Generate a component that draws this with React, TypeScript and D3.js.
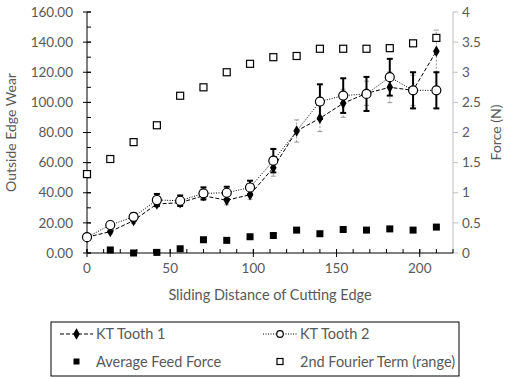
import React from "react";
import * as d3 from "d3";

// sliding distance (x) shared by every series
const distance = [0, 14, 28, 42, 56, 70, 84, 98, 112, 126, 140, 154, 168, 182, 196, 210];
// KT wear, left axis
const tooth1 = [10.5, 14.2, 21.5, 32.5, 33.4, 38, 35, 38.7, 56.6, 81, 89.4, 99.4, 106, 110, 108, 134];
const tooth1Err = [1, 1.5, 2, 2, 2.5, 3, 3, 3, 5.6, 7.4, 8.8, 9.3, 8, 10.2, 10, 14];
const tooth2 = [10.5, 18.6, 24, 35.2, 34.7, 39.6, 40, 43.5, 61.3, null, 100.5, 104.5, 105.6, 116.7, 108, 108];
const tooth2Err = [1, 2, 2.5, 4, 3.5, 4, 4, 4.5, 7.8, null, 11.5, 11.5, 11.3, 12.2, 12, 12];
// forces, right axis
const feedForce = [null, 0.05, 0, 0.01, 0.07, 0.22, 0.21, 0.27, 0.29, 0.38, 0.32, 0.39, 0.38, 0.4, 0.38, 0.43];
const fourier = [1.31, 1.56, 1.84, 2.12, 2.61, 2.75, 3.0, 3.14, 3.25, 3.27, 3.39, 3.39, 3.39, 3.4, 3.48, 3.57];

const xTicks = [0, 50, 100, 150, 200];
const leftTicks = [0, 20, 40, 60, 80, 100, 120, 140, 160];
const rightTicks = [0, 0.5, 1, 1.5, 2, 2.5, 3, 3.5, 4];

const font = "Lato, 'Open Sans', sans-serif";
const grey = "#595959";

function App() {
  const left = 87, right = 453, top = 12, bottom = 253;
  const x = d3.scaleLinear().domain([0, 220]).range([left, right]);
  const y = d3.scaleLinear().domain([0, 160]).range([bottom, top]);
  const y2 = d3.scaleLinear().domain([0, 4]).range([bottom, top]);

  const pts = (vals: (number | null)[]) =>
    distance.map((d, i) => [d, vals[i]] as [number, number | null]).filter((p) => p[1] != null) as [number, number][];

  const line = d3
    .line<[number, number]>()
    .x((d) => x(d[0]))
    .y((d) => y(d[1]));

  const diamond = d3.symbol().type(d3.symbolDiamond).size(38)();

  const errBars = (vals: (number | null)[], errs: (number | null)[], stroke: string, sw: number, dash?: string, cap = 3) =>
    distance.map((d, i) => {
      const v = vals[i], e = errs[i];
      if (v == null || e == null) return null;
      const cx = x(d);
      return (
        <g key={i} stroke={stroke} strokeWidth={sw}>
          <line x1={cx} x2={cx} y1={y(v - e)} y2={y(v + e)} strokeDasharray={dash} />
          <line x1={cx - cap} x2={cx + cap} y1={y(v - e)} y2={y(v - e)} />
          <line x1={cx - cap} x2={cx + cap} y1={y(v + e)} y2={y(v + e)} />
        </g>
      );
    });

  const xMinor = d3.range(0, 221, 10);
  const leftMinor = d3.range(0, 161, 10);

  return (
    <svg width={513} height={379} style={{ position: "absolute", left: 0, top: 0, background: "#fff" }} fontFamily={font}>
      {/* left axis */}
      <line x1={left} x2={left} y1={top} y2={bottom} stroke="#000" />
      {leftMinor.map((t) => (
        <line key={"lm" + t} x1={left} x2={left + 4} y1={y(t)} y2={y(t)} stroke="#000" />
      ))}
      {leftTicks.map((t) => (
        <g key={"l" + t}>
          <line x1={left - 4} x2={left + 4} y1={y(t)} y2={y(t)} stroke="#000" />
          <text x={left - 14} y={y(t)} dy="0.35em" textAnchor="end" fontSize={13.5} fill={grey}>
            {t.toFixed(2)}
          </text>
        </g>
      ))}
      <text transform={`translate(16,${(top + bottom) / 2}) rotate(-90)`} textAnchor="middle" fontSize={14} fill={grey}>
        Outside Edge Wear
      </text>

      {/* right axis */}
      <line x1={right} x2={right} y1={top} y2={bottom} stroke="#bfbfbf" />
      {rightTicks.map((t) => (
        <g key={"r" + t}>
          <line x1={right} x2={right + 5} y1={y2(t)} y2={y2(t)} stroke="#bfbfbf" />
          <text x={right + 9} y={y2(t)} dy="0.35em" fontSize={13.5} fill={grey}>
            {t}
          </text>
        </g>
      ))}
      <text transform={`translate(501,${(top + bottom) / 2}) rotate(-90)`} textAnchor="middle" fontSize={14} fill={grey}>
        Force (N)
      </text>

      {/* x axis */}
      <line x1={left} x2={right} y1={bottom} y2={bottom} stroke="#000" />
      {xMinor.map((t) => (
        <line key={"xm" + t} x1={x(t)} x2={x(t)} y1={bottom - 4} y2={bottom} stroke="#000" />
      ))}
      {xTicks.map((t) => (
        <g key={"x" + t}>
          <line x1={x(t)} x2={x(t)} y1={bottom - 4} y2={bottom + 4} stroke="#000" />
          <text x={x(t)} y={bottom + 20} textAnchor="middle" fontSize={13.5} fill={grey}>
            {t}
          </text>
        </g>
      ))}
      <text x={(left + right) / 2} y={300} textAnchor="middle" fontSize={14.5} fill={grey}>
        Sliding Distance of Cutting Edge
      </text>

      {/* KT Tooth 1 */}
      {errBars(tooth1, tooth1Err, "#9a9a9a", 1, "2,1.5", 2.5)}
      <path d={line(pts(tooth1)) || ""} fill="none" stroke="#000" strokeWidth={1} strokeDasharray="4,2" />
      {pts(tooth1).map((p, i) => (
        <path key={"d" + i} d={diamond || ""} transform={`translate(${x(p[0])},${y(p[1])})`} fill="#000" />
      ))}

      {/* KT Tooth 2 */}
      {errBars(tooth2, tooth2Err, "#000", 2, undefined, 3)}
      <path d={line(pts(tooth2)) || ""} fill="none" stroke="#000" strokeWidth={1} strokeDasharray="1,1.5" />
      {pts(tooth2).map((p, i) => (
        <circle key={"c" + i} cx={x(p[0])} cy={y(p[1])} r={4.5} fill="#fff" stroke="#000" strokeWidth={1.2} />
      ))}

      {/* Average Feed Force */}
      {pts(feedForce).map((p, i) => (
        <rect key={"f" + i} x={x(p[0]) - 3.5} y={y2(p[1]) - 3.5} width={7} height={7} fill="#000" />
      ))}

      {/* 2nd Fourier Term */}
      {pts(fourier).map((p, i) => (
        <rect key={"q" + i} x={x(p[0]) - 3.5} y={y2(p[1]) - 3.5} width={7} height={7} fill="#fff" stroke="#000" strokeWidth={1.2} />
      ))}

      {/* legend */}
      <rect x={51} y={322} width={408} height={54} fill="#fff" stroke="#000" strokeWidth={1} />
      <line x1={60} x2={93} y1={334} y2={334} stroke="#000" strokeDasharray="4,2" />
      <path d={diamond || ""} transform="translate(76.5,334)" fill="#000" />
      <text x={96} y={334} dy="0.35em" fontSize={14.5} fill={grey}>KT Tooth 1</text>
      <line x1={263} x2={297} y1={334} y2={334} stroke="#000" strokeDasharray="1,1.5" />
      <circle cx={280} cy={334} r={3.3} fill="#fff" stroke="#000" strokeWidth={1.2} />
      <text x={300} y={334} dy="0.35em" fontSize={14.5} fill={grey}>KT Tooth 2</text>
      <rect x={73.5} y={358.5} width={6} height={6} fill="#000" />
      <text x={96} y={361.5} dy="0.35em" fontSize={14.5} fill={grey}>Average Feed Force</text>
      <rect x={277} y={358.5} width={6} height={6} fill="#fff" stroke="#000" strokeWidth={1.2} />
      <text x={300} y={361.5} dy="0.35em" fontSize={14.5} fill={grey}>2nd Fourier Term (range)</text>
    </svg>
  );
}

export default App;
